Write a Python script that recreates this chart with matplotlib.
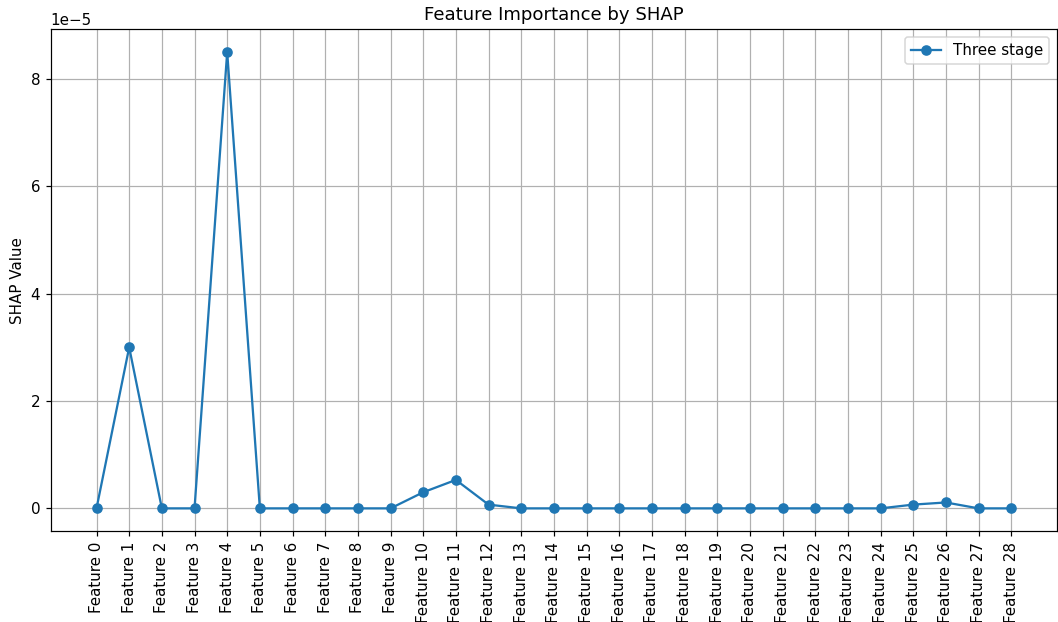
import matplotlib.pyplot as plt

features = [f"Feature {i}" for i in range(29)]
shap_values = [
    0.0, 3.0e-5, 0.0, 0.0, 8.5e-5, 0.0, 0.0, 0.0, 0.0, 0.0,
    0.30e-5, 0.53e-5, 0.07e-5, 0.0, 0.0, 0.0, 0.0, 0.0, 0.0, 0.0,
    0.0, 0.0, 0.0, 0.0, 0.0, 0.07e-5, 0.11e-5, 0.0, 0.0,
]

dpi = 109
fig = plt.figure(figsize=(1058 / dpi, 622 / dpi), dpi=dpi)
plt.plot(features, shap_values, marker="o", label="Three stage")
plt.ylabel("SHAP Value")
plt.title("Feature Importance by SHAP")
plt.xticks(rotation=90)
plt.legend()
plt.grid(True)
plt.subplots_adjust(left=0.048, right=0.999, top=0.953, bottom=0.146)

plt.savefig("out.png", dpi=dpi)
